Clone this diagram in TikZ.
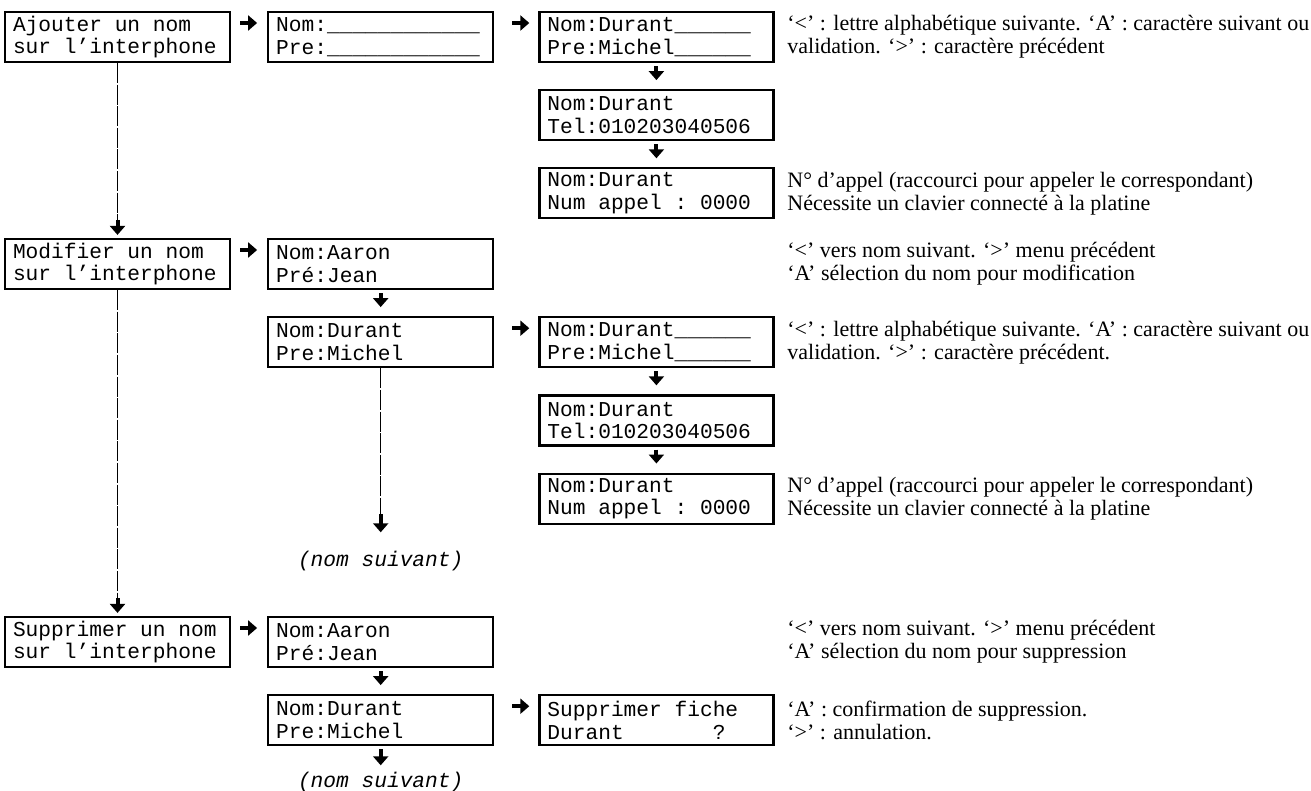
\documentclass[tikz,border=0pt]{standalone}
\usepackage{fontspec}
\setmainfont{Liberation Serif}
\newfontfamily\lcdfamily{Liberation Mono}
\usetikzlibrary{positioning,arrows.meta,calc}

\newcommand\lcd{\lcdfamily\fontsize{10.6}{11.35}\selectfont}
\newcommand\lcdit{\lcdfamily\itshape\fontsize{10.6}{11.35}\selectfont}
\newcommand\notefont{\fontsize{11}{11.5}\selectfont}
% one display cell of blank
\newcommand\lsp{\phantom{0}}

\tikzset{
  lcd/.style={draw,line width=1.1pt,font=\lcd,align=left,text width=104.5pt,
    inner xsep=4pt,inner ysep=1pt,minimum height=25pt},
  wide/.style={text width=109pt},
  note/.style={font=\notefont,align=left,anchor=west,inner sep=0pt},
  suite/.style={font=\lcdit,inner sep=1pt},
  harrow/.style={line width=2pt,-{Triangle[length=4.5pt,width=7.5pt]}},
  hop/.style={harrow,shorten <=4.5pt,shorten >=5pt},
  drop/.style={harrow,shorten <=1.5pt,shorten >=4.5pt},
  vline/.style={line width=0.5pt,dash pattern=on 10pt off 0.8pt},
}

\begin{document}
\begin{tikzpicture}[x=0.5pt,y=-0.5pt,node distance=13pt]
  \useasboundingbox (0,0) rectangle (1311,791);
  \coordinate (notecol) at (787,0);
  %
  % ajouter un nom
  \node[lcd] (a1) at (117.5,37) {Ajouter\lsp un\lsp nom\\sur\lsp l’interphone};
  \node[lcd,right=18pt of a1] (n1) {Nom:\_\_\_\_\_\_\_\_\_\_\_\_\\Pre:\_\_\_\_\_\_\_\_\_\_\_\_};
  \node[lcd,wide,right=22pt of n1] (d1) {Nom:Durant\_\_\_\_\_\_\\Pre:Michel\_\_\_\_\_\_};
  \node[lcd,wide,below=of d1] (t1) {Nom:Durant\\Tel:010203040506};
  \node[lcd,wide,below=of t1] (c1) {Nom:Durant\\Num\lsp appel\lsp:\lsp 0000};
  \node[note] (d1txt) at (notecol |- d1) {‘<’ : lettre alphabétique suivante. ‘A’ : caractère suivant ou\\validation. ‘>’ : caractère précédent};
  \node[note] (c1txt) at (notecol |- c1) {N° d’appel (raccourci pour appeler le correspondant)\\Nécessite un clavier connecté à la platine};
  %
  \draw[hop] ([yshift=7pt]a1.east) -- ([yshift=7pt]n1.west);
  \draw[hop,shorten <=9pt,shorten >=4.5pt] ([yshift=7pt]n1.east) -- ([yshift=7pt]d1.west);
  \draw[drop] (d1) -- (t1);
  \draw[drop] (t1) -- (c1);
  %
  % modifier un nom
  \node[lcd] (a2) at (117.5,264) {Modifier\lsp un\lsp nom\\sur\lsp l’interphone};
  \node[lcd,right=18pt of a2] (n2) {Nom:Aaron\\Pré:Jean};
  \node[lcd,below=of n2] (m2) {Nom:Durant\\Pre:Michel};
  \node[lcd,wide,right=22pt of m2] (d2) {Nom:Durant\_\_\_\_\_\_\\Pre:Michel\_\_\_\_\_\_};
  \node[lcd,wide,below=of d2] (t2) {Nom:Durant\\Tel:010203040506};
  \node[lcd,wide,below=of t2] (c2) {Nom:Durant\\Num\lsp appel\lsp:\lsp 0000};
  \node[suite,below=90pt of m2] (ns1) {(nom\lsp suivant)};
  \node[note] (n2txt) at (notecol |- n2) {‘<’ vers nom suivant. ‘>’ menu précédent\\‘A’ sélection du nom pour modification};
  \node[note] (d2txt) at (notecol |- d2) {‘<’ : lettre alphabétique suivante. ‘A’ : caractère suivant ou\\validation. ‘>’ : caractère précédent.};
  \node[note] (c2txt) at (notecol |- c2) {N° d’appel (raccourci pour appeler le correspondant)\\Nécessite un clavier connecté à la platine};
  %
  \coordinate[above=9pt of a2] (a2in);
  \draw[vline] (a1) -- (a2in);
  \draw[harrow,shorten >=1.5pt] (a2in) -- (a2);
  \draw[hop] ([yshift=7pt]a2.east) -- ([yshift=7pt]n2.west);
  \draw[drop] (n2) -- (m2);
  \draw[hop,shorten <=9pt,shorten >=4.5pt] ([yshift=7pt]m2.east) -- ([yshift=7pt]d2.west);
  \draw[drop] (d2) -- (t2);
  \draw[drop] (t2) -- (c2);
  \coordinate[above=17pt of ns1] (ns1in);
  \draw[vline] (m2) -- (ns1in);
  \draw[harrow,shorten >=8pt] (ns1in) -- (ns1);
  %
  % supprimer un nom
  \node[lcd] (a3) at (117.5,642) {Supprimer\lsp un\lsp nom\\sur\lsp l’interphone};
  \node[lcd,right=18pt of a3] (n3) {Nom:Aaron\\Pré:Jean};
  \node[lcd,below=of n3] (m3) {Nom:Durant\\Pre:Michel};
  \node[lcd,wide,right=22pt of m3] (s3) {Supprimer\lsp fiche\\Durant\lsp\lsp\lsp\lsp\lsp\lsp\lsp?};
  \node[suite,below=11.5pt of m3] (ns2) {(nom\lsp suivant)};
  \node[note] (n3txt) at (notecol |- n3) {‘<’ vers nom suivant. ‘>’ menu précédent\\‘A’ sélection du nom pour suppression};
  \node[note] (s3txt) at (notecol |- s3) {‘A’ : confirmation de suppression.\\‘>’ : annulation.};
  %
  \coordinate[above=9pt of a3] (a3in);
  \draw[vline] (a2) -- (a3in);
  \draw[harrow,shorten >=1.5pt] (a3in) -- (a3);
  \draw[hop] ([yshift=7pt]a3.east) -- ([yshift=7pt]n3.west);
  \draw[drop] (n3) -- (m3);
  \draw[hop,shorten <=9pt,shorten >=4.5pt] ([yshift=7pt]m3.east) -- ([yshift=7pt]s3.west);
  \draw[drop,shorten >=2pt] (m3) -- (ns2);
\end{tikzpicture}
\end{document}
